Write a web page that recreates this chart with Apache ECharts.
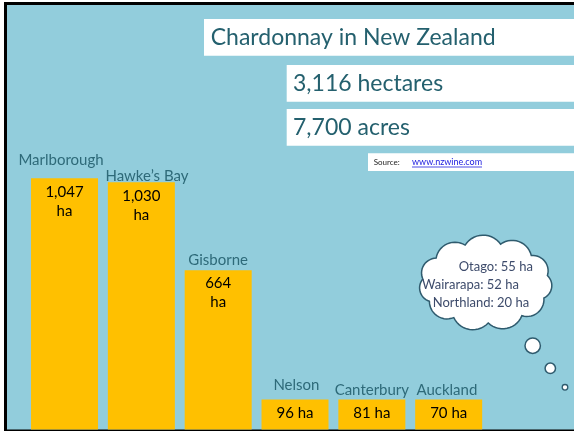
<!DOCTYPE html>
<html>
<head>
<meta charset="utf-8">
<script src="https://cdn.jsdelivr.net/npm/echarts@6/dist/echarts.min.js"></script>
<style>html,body{margin:0;padding:0;background:#fff}#c{width:574px;height:431px}</style>
</head>
<body>
<div id="c"></div>
<script>
// ---- data ----
const categories = ['Marlborough', 'Hawke\u2019s Bay', 'Gisborne', 'Nelson', 'Canterbury', 'Auckland'];
const hectares = [1047, 1030, 664, 96, 81, 70];
const otherRegions = ['Otago', 'Wairarapa', 'Northland'];
const otherHectares = [55, 52, 20];
const titleText = 'Chardonnay in New Zealand';
const totalHectaresText = '3,116 hectares';
const totalAcresText = '7,700 acres';
const sourceLabel = 'Source:';
const sourceUrl = 'www.nzwine.com';

// ---- style ----
const FONT = 'Lato, "Open Sans", sans-serif';
const BG = '#92CDDC';
const BAR = '#FFC000';
const TEAL = '#24606E';
const CAT = '#2E6A79';
const CLOUD_TXT = '#3D4B6B';
const CLOUD_LINE = '#2F5B6E';
// per-category nudges of the region-name labels (style only)
const nameLabelOffsets = [[-3.5, -9], [5.6, 3], [0, 0], [1.4, -5], [0, 0], [-1.8, 0]];

const fmt = v => v.toLocaleString('en-US');

function cloudPoints(cx, cy, rx, ry, n, off, k) {
  const pts = [];
  for (let i = 0; i < n; i++) {
    const t = off + i * 2 * Math.PI / n;
    pts.push([cx + rx * Math.cos(t), cy + ry * Math.sin(t)]);
  }
  const out = [];
  for (let i = 0; i < n; i++) {
    const a = pts[i], b = pts[(i + 1) % n];
    const ch = Math.hypot(b[0] - a[0], b[1] - a[1]);
    const r = ch * k;
    const m = [(a[0] + b[0]) / 2, (a[1] + b[1]) / 2];
    const u = [(b[0] - a[0]) / ch, (b[1] - a[1]) / ch];
    let nIn = [u[1], -u[0]];
    if ((cx - m[0]) * nIn[0] + (cy - m[1]) * nIn[1] < 0) nIn = [-nIn[0], -nIn[1]];
    const h = Math.sqrt(Math.max(r * r - ch * ch / 4, 0));
    const c = [m[0] + nIn[0] * h, m[1] + nIn[1] * h];
    const ta = Math.atan2(a[1] - c[1], a[0] - c[0]);
    const tb = Math.atan2(b[1] - c[1], b[0] - c[0]);
    let d = tb - ta;
    while (d > Math.PI) d -= 2 * Math.PI;
    while (d <= -Math.PI) d += 2 * Math.PI;
    const N = 14;
    for (let j = 0; j < N; j++) {
      const t = ta + d * j / N;
      out.push([c[0] + r * Math.cos(t), c[1] + r * Math.sin(t)]);
    }
  }
  return out;
}

const cloudLines = otherRegions.map((r, i) => r + ': ' + otherHectares[i] + ' ha');
const cloudLineX = [458.7, 422, 432.7];
const cloudLineY = [266.7, 285, 303.3];

const chart = echarts.init(document.getElementById('c'), null, {renderer: 'canvas'});
chart.setOption({
  animation: false,
  backgroundColor: '#fff',
  grid: {left: 26.1, right: 86.9, top: 21.5, bottom: 1.5},
  xAxis: {type: 'category', data: categories, show: false},
  yAxis: {type: 'value', min: 0, max: 1700, show: false},
  series: [
    {
      type: 'bar', data: hectares, barWidth: 67, barMinHeight: 30, z: 3,
      itemStyle: {color: BAR},
      label: {
        show: true, position: 'insideTop', distance: 4,
        formatter: p => p.value >= 500 ? fmt(p.value) + '\nha' : fmt(p.value) + ' ha',
        color: '#000', fontSize: 15, lineHeight: 19, fontFamily: FONT
      }
    },
    {
      type: 'bar', barWidth: 67, barGap: '-100%', barMinHeight: 30, z: 3, silent: true,
      data: hectares.map((v, i) => ({value: v, label: {offset: nameLabelOffsets[i]}})),
      itemStyle: {color: 'rgba(0,0,0,0)'},
      label: {
        show: true, position: 'top', distance: 2,
        formatter: p => p.name,
        color: CAT, fontSize: 15, fontFamily: FONT
      }
    }
  ],
  graphic: [
    {type: 'rect', z: -10, shape: {x: 4, y: 2, width: 580, height: 430}, style: {fill: '#000'}},
    {type: 'rect', z: -9, shape: {x: 7, y: 5, width: 580, height: 424.5}, style: {fill: BG}},
    {type: 'rect', shape: {x: 204, y: 19, width: 380, height: 36.7}, style: {fill: '#fff'}},
    {type: 'text', style: {x: 210.7, y: 37.8, text: titleText, fill: TEAL, fontSize: 23, fontFamily: FONT, verticalAlign: 'middle'}},
    {type: 'rect', shape: {x: 286.7, y: 65, width: 300, height: 36.7}, style: {fill: '#fff'}},
    {type: 'text', style: {x: 293, y: 83.8, text: totalHectaresText, fill: TEAL, fontSize: 23, fontFamily: FONT, verticalAlign: 'middle'}},
    {type: 'rect', shape: {x: 286.7, y: 109, width: 300, height: 36.7}, style: {fill: '#fff'}},
    {type: 'text', style: {x: 293, y: 127.8, text: totalAcresText, fill: TEAL, fontSize: 23, fontFamily: FONT, verticalAlign: 'middle'}},
    {type: 'rect', shape: {x: 368, y: 153.3, width: 220, height: 17.7}, style: {fill: '#fff'}},
    {type: 'text', style: {x: 373.7, y: 162.3, text: sourceLabel, fill: '#222', fontSize: 8, fontFamily: FONT, verticalAlign: 'middle'}},
    {type: 'text', style: {x: 412, y: 162.3, text: sourceUrl, fill: '#2020E0', fontSize: 9, fontFamily: FONT, verticalAlign: 'middle'}},
    {type: 'line', shape: {x1: 412, y1: 167, x2: 482, y2: 167}, style: {stroke: '#2020E0', lineWidth: 0.8}},
    {type: 'polygon', shape: {points: cloudPoints(485.5, 283, 63, 40, 11, -1.9, 0.6)}, style: {fill: '#fff', stroke: CLOUD_LINE, lineWidth: 1.5}},
    {type: 'circle', shape: {cx: 532.7, cy: 345.7, r: 7.7}, style: {fill: '#fff', stroke: CLOUD_LINE, lineWidth: 1.5}},
    {type: 'circle', shape: {cx: 550.3, cy: 368.3, r: 5.2}, style: {fill: '#fff', stroke: CLOUD_LINE, lineWidth: 1.5}},
    {type: 'circle', shape: {cx: 565, cy: 387.3, r: 2.8}, style: {fill: '#fff', stroke: CLOUD_LINE, lineWidth: 1.3}}
  ].concat(cloudLines.map((t, i) => ({
    type: 'text', style: {x: cloudLineX[i], y: cloudLineY[i], text: t, fill: CLOUD_TXT, fontSize: 13, fontFamily: FONT, verticalAlign: 'middle'}
  })))
});
</script>
</body>
</html>
